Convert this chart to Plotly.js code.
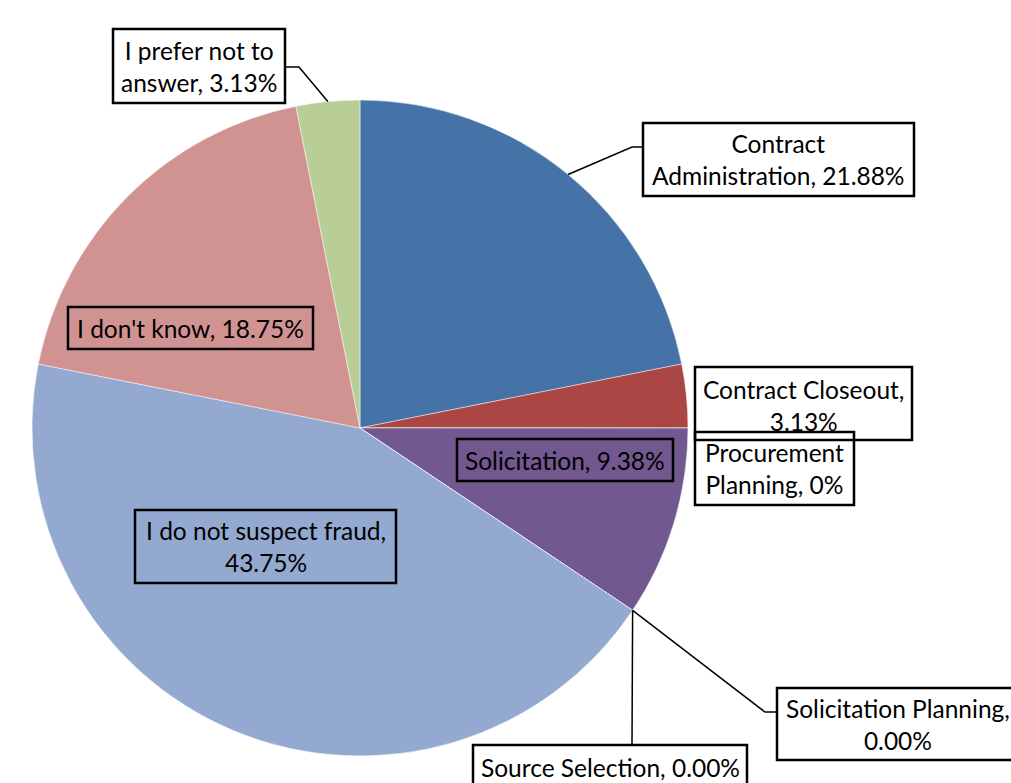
<!DOCTYPE html>
<html><head><meta charset="utf-8">
<script src="https://cdn.plot.ly/plotly-3.0.1.min.js"></script>
<style>html,body{margin:0;padding:0;background:#fff;overflow:hidden}#chart{width:1011px;height:783px}</style>
</head><body><div id="chart"></div>
<script>
// ---- data ----
const categories = ["Contract Administration","Contract Closeout","Procurement Planning","Solicitation","Solicitation Planning","Source Selection","I do not suspect fraud","I don't know","I prefer not to answer"];
const values = [21.88, 3.13, 0, 9.38, 0, 0, 43.75, 18.75, 3.13];
const valueLabels = ["21.88%","3.13%","0%","9.38%","0.00%","0.00%","43.75%","18.75%","3.13%"];
const colors = ["#4572A7","#AA4643","#89A54E","#71588F","#4198AF","#DB843D","#93A9CF","#D19392","#B9CD96"];

// ---- layout (pixels) ----
const W = 1011, H = 783;
const CX = 360, CY = 428, R = 328;
const FONT = "Lato, 'Open Sans', sans-serif";
const FS = 24.5;
// label boxes: [x0,y0,x1,y1], wrap = words on first line, fill, elbow/attach for leader
const boxes = [
  {i:0, b:[643,123,914,196], wrap:1, fill:"white", elbow:[632,147], attach:[643,147]},
  {i:1, b:[695,367,912,440], wrap:2, fill:"white", ty:[389,421]},
  {i:2, b:[695,432,854,505], wrap:1, fill:"rgba(0,0,0,0)"},
  {i:3, b:[457,439,673,481], wrap:0, fill:"rgba(0,0,0,0)"},
  {i:4, b:[777,688,1019,760], wrap:2, fill:"white", elbow:[765,712], attach:[777,712]},
  {i:5, b:[473,745,747,790], wrap:0, fill:"white", elbow:[632,745], attach:[632,745], ty:[767]},
  {i:6, b:[135,510,396,583], wrap:5, fill:"rgba(0,0,0,0)"},
  {i:7, b:[68,307,313,349], wrap:0, fill:"rgba(0,0,0,0)"},
  {i:8, b:[113,29,285,103], wrap:4, fill:"white", elbow:[299,67], attach:[285,67]}
];

const px = x => x / W;
const py = y => 1 - y / H;

const total = values.reduce((a, b) => a + b, 0);
function anchor(i) {
  let s = 0;
  for (let k = 0; k < i; k++) s += values[k];
  const mid = (s + values[i] / 2) / total * 2 * Math.PI;
  return [CX + R * Math.sin(mid), CY - R * Math.cos(mid)];
}
function labelText(i, wrap) {
  const words = (categories[i] + ", " + valueLabels[i]).split(" ");
  if (!wrap) return words.join(" ");
  return words.slice(0, wrap).join(" ") + "<br>" + words.slice(wrap).join(" ");
}

const shapes = [], annotations = [];
boxes.forEach(bx => {
  const [x0, y0, x1, y1] = bx.b;
  if (bx.elbow) {
    const a = anchor(bx.i);
    shapes.push({type:"path", xref:"paper", yref:"paper", layer:"above",
      path:`M${px(a[0])},${py(a[1])} L${px(bx.elbow[0])},${py(bx.elbow[1])} L${px(bx.attach[0])},${py(bx.attach[1])}`,
      line:{color:"black", width:1.5}});
  }
  shapes.push({type:"rect", xref:"paper", yref:"paper", layer:"above",
    x0:px(x0), x1:px(x1), y0:py(y0), y1:py(y1), fillcolor:bx.fill,
    line:{color:"black", width:2.5}});
  annotations.push({xref:"paper", yref:"paper", x:px((x0 + x1) / 2), y:py(bx.ty ? (bx.ty.length > 1 ? (bx.ty[0] + bx.ty[1]) / 2 : bx.ty[0]) : (y0 + y1) / 2),
    xanchor:"center", yanchor:"middle", showarrow:false, align:"center",
    text:labelText(bx.i, bx.wrap), font:{family:FONT, size:FS, color:"black"}});
});

const trace = {
  type:"pie", values:values, labels:categories, sort:false, direction:"clockwise", rotation:0,
  textinfo:"none", hoverinfo:"label+percent",
  marker:{colors:colors, line:{color:"rgba(255,255,255,0.6)", width:0.8}},
  domain:{x:[px(CX - R), px(CX + R)], y:[py(CY + R), py(CY - R)]},
  showlegend:false
};

Plotly.newPlot("chart", [trace], {
  width:W, height:H, margin:{l:0, r:0, t:0, b:0},
  paper_bgcolor:"white", showlegend:false,
  shapes:shapes, annotations:annotations
}, {displayModeBar:false, staticPlot:true});
</script></body></html>
